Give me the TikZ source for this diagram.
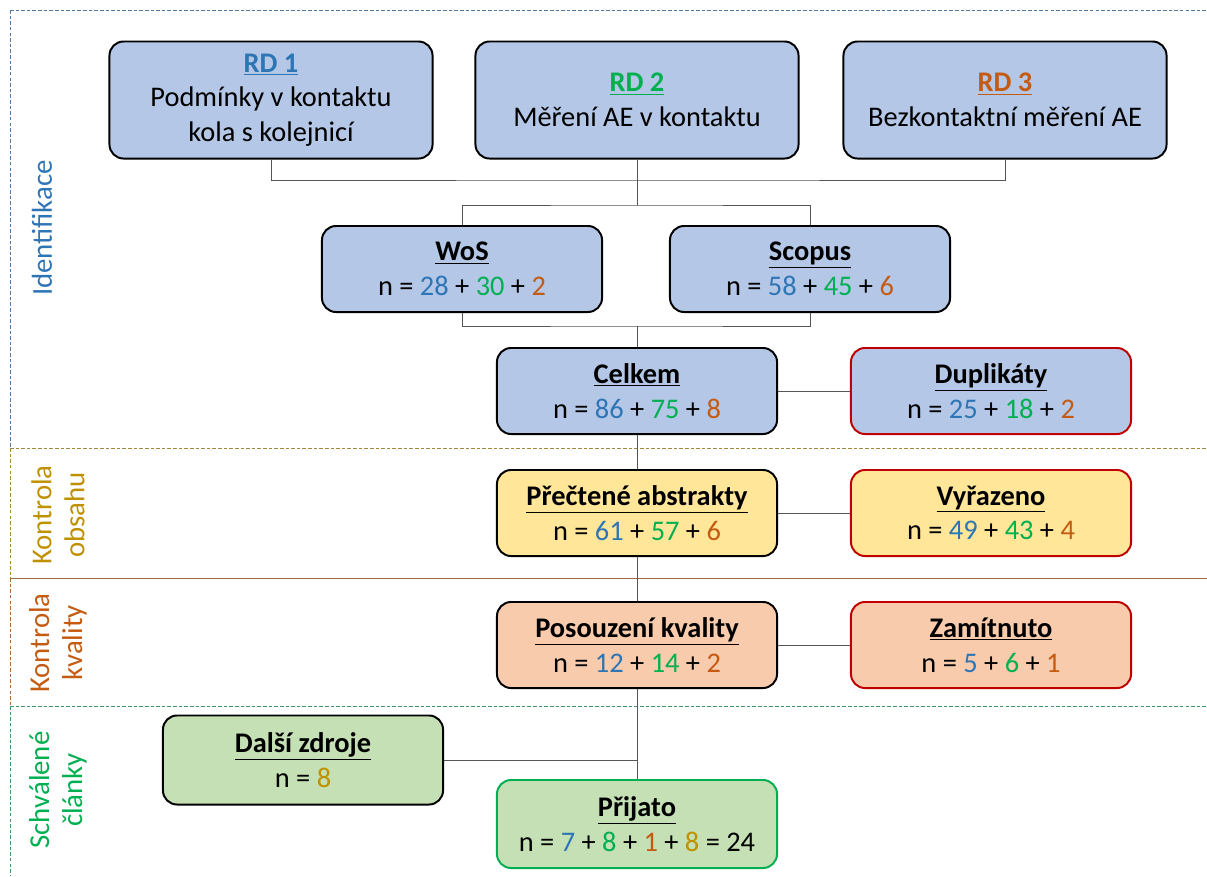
\documentclass[tikz,border=0pt]{standalone}
\usepackage{fontspec}
\setmainfont{Carlito}
\usetikzlibrary{positioning}

\definecolor{cblue}{HTML}{2E75B6}
\definecolor{cgreen}{HTML}{00B050}
\definecolor{corange}{HTML}{C55A11}
\definecolor{cgold}{HTML}{BF9000}
\definecolor{fblue}{HTML}{B4C7E7}
\definecolor{fyellow}{HTML}{FFE699}
\definecolor{forange}{HTML}{F8CBAD}
\definecolor{fgreen}{HTML}{C5E0B4}
\definecolor{cred}{HTML}{C00000}
\definecolor{cline}{HTML}{555555}

\newcommand{\rdone}[1]{\textcolor{cblue}{#1}}
\newcommand{\rdtwo}[1]{\textcolor{cgreen}{#1}}
\newcommand{\rdthree}[1]{\textcolor{corange}{#1}}
\newcommand{\extra}[1]{\textcolor{cgold}{#1}}
\newcommand{\boxtitle}[1]{\underline{\textbf{#1}}}

\tikzset{
  box/.style={draw, rounded corners=10pt, line width=1.4pt, align=center,
    inner sep=0pt, font=\fontsize{20.2}{24.6}\selectfont},
  rdbox/.style={box, fill=fblue, minimum width=8.075cm, minimum height=2.925cm},
  smallbox/.style={box, minimum width=7cm, minimum height=2.15cm},
  link/.style={draw=cline, line width=0.7pt},
  sep/.style={line width=0.7pt, dash pattern=on 2.5pt off 1.5pt},
  seclabel/.style={rotate=90, align=center, font=\fontsize{20.5}{23.5}\selectfont}
}

\begin{document}
\begin{tikzpicture}[x=0.025cm, y=-0.025cm]
\useasboundingbox (0,0) rectangle (1207,876);

% frame and section separators
\draw[sep, draw=cblue!60!gray] (10,10) -- (1207,10);
\draw[sep, draw=cblue!60!gray] (10,10) -- (10,448);
\draw[sep, draw=cgold!60!gray] (10,448) -- (10,578);
\draw[sep, draw=corange!60!gray] (10,578) -- (10,706);
\draw[sep, draw=cgreen!50!gray] (10,706) -- (10,876);
\draw[sep, draw=cgold!50!gray] (10,448) -- (1207,448);
\draw[line width=0.7pt, draw=corange!50!gray] (10,578) -- (1207,578);
\draw[sep, draw=cgreen!50!gray] (10,706) -- (1207,706);

% section labels
\node[seclabel, text=cblue] (lblident) at (42,228) {Identifikace};
\node[seclabel, text=cgold] (lblobsah) at (58,515) {Kontrola\\obsahu};
\node[seclabel, text=corange] (lblkval) at (58,643) {Kontrola\\kvality};
\node[seclabel, text=cgreen] (lblschval) at (58,790) {Schválené\\články};

% research questions
\node[rdbox] (rd1) at (271,100) {\rdone{\boxtitle{RD 1}}\\Podmínky v kontaktu\\kola s kolejnicí};
\node[rdbox] (rd2) at (637,100) {\rdtwo{\boxtitle{RD 2}}\\Měření AE v kontaktu};
\node[rdbox] (rd3) at (1005,100) {\rdthree{\boxtitle{RD 3}}\\Bezkontaktní měření AE};

% databases
\node[smallbox, fill=fblue] (wos) at (462,269) {\boxtitle{WoS}\\n = \rdone{28} + \rdtwo{30} + \rdthree{2}};
\node[smallbox, fill=fblue] (scopus) at (810,269) {\boxtitle{Scopus}\\n = \rdone{58} + \rdtwo{45} + \rdthree{6}};

% screening
\node[smallbox, fill=fblue] (celkem) at (637,391) {\boxtitle{Celkem}\\n = \rdone{86} + \rdtwo{75} + \rdthree{8}};
\node[smallbox, fill=fblue, draw=cred] (dupl) at (991,391) {\boxtitle{Duplikáty}\\n = \rdone{25} + \rdtwo{18} + \rdthree{2}};
\node[smallbox, fill=fyellow] (abstr) at (637,513) {\boxtitle{Přečtené abstrakty}\\n = \rdone{61} + \rdtwo{57} + \rdthree{6}};
\node[smallbox, fill=fyellow, draw=cred] (vyraz) at (991,513) {\boxtitle{Vyřazeno}\\n = \rdone{49} + \rdtwo{43} + \rdthree{4}};
\node[smallbox, fill=forange] (posouz) at (637,645) {\boxtitle{Posouzení kvality}\\n = \rdone{12} + \rdtwo{14} + \rdthree{2}};
\node[smallbox, fill=forange, draw=cred] (zamit) at (991,645) {\boxtitle{Zamítnuto}\\n = \rdone{5} + \rdtwo{6} + \rdthree{1}};

% accepted
\node[smallbox, fill=fgreen, minimum height=2.225cm] (dalsi) at (303,760) {\boxtitle{Další zdroje}\\n = \extra{8}};
\node[smallbox, fill=fgreen, draw=cgreen, minimum height=2.2cm] (prijato) at (637,824) {\boxtitle{Přijato}\\n = \rdone{7} + \rdtwo{8} + \rdthree{1} + \extra{8} = 24};

% connectors
\coordinate (jA) at (637,180);
\coordinate (jB) at (637,205);
\coordinate (jC) at (637,326);
\coordinate (jD) at (637,760);
\draw[link] (rd1.south) |- (jA) -| (rd3.south);
\draw[link] (rd2.south) -- (jB);
\draw[link] (wos.north) |- (jB) -| (scopus.north);
\draw[link] (wos.south) |- (jC) -| (scopus.south);
\draw[link] (jC) -- (celkem.north);
\draw[link] (celkem) -- (dupl);
\draw[link] (celkem) -- (abstr);
\draw[link] (abstr) -- (vyraz);
\draw[link] (abstr) -- (posouz);
\draw[link] (posouz) -- (zamit);
\draw[link] (posouz) -- (prijato);
\draw[link] (dalsi.east) -- (jD);
\end{tikzpicture}
\end{document}
